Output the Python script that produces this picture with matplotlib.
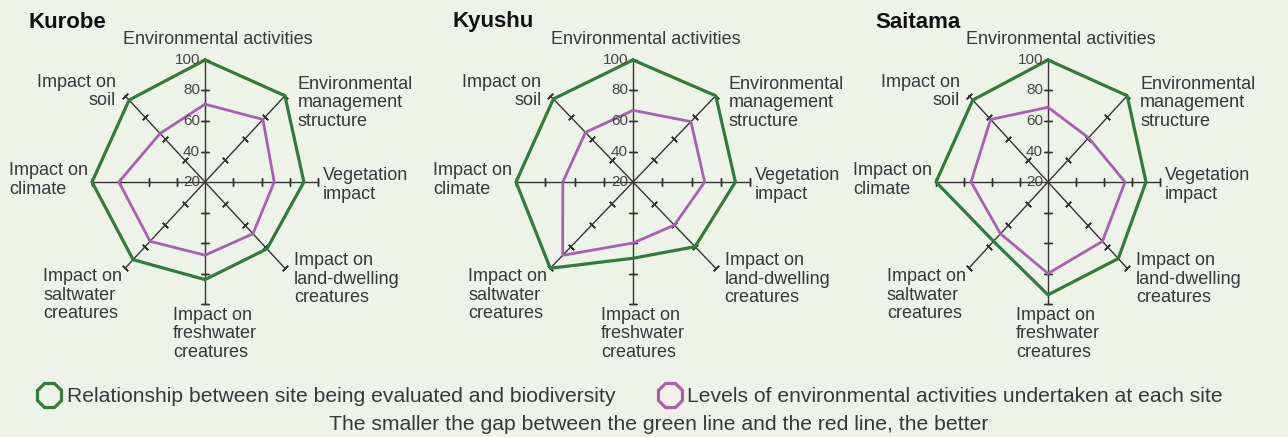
import numpy as np
import matplotlib
matplotlib.use("Agg")
import matplotlib.pyplot as plt
from matplotlib.lines import Line2D

plt.rcParams['font.family'] = ['Liberation Sans', 'DejaVu Sans']

sites = ["Kurobe", "Kyushu", "Saitama"]
categories = ["Environmental activities",
              "Environmental\nmanagement\nstructure",
              "Vegetation\nimpact",
              "Impact on\nland-dwelling\ncreatures",
              "Impact on\nfreshwater\ncreatures",
              "Impact on\nsaltwater\ncreatures",
              "Impact on\nclimate",
              "Impact on\nsoil"]
r_ticks = [20, 40, 60, 80, 100]

# biodiversity relationship (green)
green_kurobe = [100, 100, 90, 82, 84, 92, 100, 96]
green_kyushu = [100, 100, 90, 80, 70, 100, 100, 97]
green_saitama = [100, 100, 90, 91, 94, 75, 100, 96]
# environmental activity levels (purple)
purple_kurobe = [71, 78, 69, 68, 68, 75, 81, 65]
purple_kyushu = [67, 76, 69, 60, 60, 88, 68, 66]
purple_saitama = [69, 61, 75, 75, 80, 68, 75, 78]

greens = [green_kurobe, green_kyushu, green_saitama]
purples = [purple_kurobe, purple_kyushu, purple_saitama]

BG = '#eef3e8'
GREEN = '#2e7d3a'
PURPLE = '#ad5cb8'
AX = '#333333'
TXT = '#383838'

W, H = 1288, 437
fig = plt.figure(figsize=(W / 100, H / 100), dpi=100, facecolor=BG)

# centre x, half width (px); all share centre y and half height
centres = [(205, 113), (633, 117), (1048, 112)]
cy, hh = 182, 122
title_x = [28, 452, 875]

# label offsets in pixels from each spoke end: dx, dy, ha, multialignment
lab = [(13, 20, 'center', 'center'),
       (13, -7, 'left', 'left'),
       (5, -3, 'left', 'left'),
       (9, -11, 'left', 'left'),
       (-32, -30, 'left', 'left'),
       (-3, -27, 'right', 'left'),
       (-4, 2, 'right', 'left'),
       (-9, 4, 'right', 'right')]

n = len(categories)
theta = np.arange(n) * 2 * np.pi / n

for i, site in enumerate(sites):
    cx, hw = centres[i]
    ax = fig.add_axes([(cx - hw) / W, (H - cy - hh) / H, 2 * hw / W, 2 * hh / H],
                      projection='polar')
    ax.set_aspect('auto')
    ax.set_theta_zero_location('N')
    ax.set_theta_direction(-1)
    ax.set_ylim(20, 100)
    ax.axis('off')

    # spokes with cross ticks
    for k, t in enumerate(theta):
        ax.plot([t, t], [20, 100], color=AX, lw=1, clip_on=False, zorder=2)
        ang = 90 - np.degrees(t)
        ax.plot([t] * 4, r_ticks[1:], ls='none', marker=(2, 2, ang), ms=5.5,
                mew=1, color=AX, clip_on=False, zorder=2)

    tt = np.append(theta, theta[0])
    g = greens[i] + greens[i][:1]
    p = purples[i] + purples[i][:1]
    ax.plot(tt, g, color=GREEN, lw=2.3, clip_on=False, zorder=3)
    ax.plot(tt, p, color=PURPLE, lw=2.0, clip_on=False, zorder=3)

    for r in r_ticks:
        ax.annotate(str(r), xy=(0, r), xytext=(-5, 0), textcoords='offset pixels',
                    ha='right', va='center', fontsize=11, color='#444444',
                    annotation_clip=False, zorder=4)

    for k, t in enumerate(theta):
        dx, dy, ha, ma = lab[k]
        ax.annotate(categories[k], xy=(t, 100), xytext=(dx, dy),
                    textcoords='offset pixels', ha=ha, va='center',
                    multialignment=ma, fontsize=13, color=TXT,
                    linespacing=1.1, annotation_clip=False)

    fig.text(title_x[i] / W, 1 - 22 / H, site, fontsize=16, fontweight='bold',
             color='#111111', ha='left', va='center')

# legend
fig.add_artist(Line2D([49 / W], [1 - 395 / H], transform=fig.transFigure,
                      marker='8', ms=19, mfc='none', mec=GREEN, mew=2.3))
fig.text(67 / W, 1 - 396 / H,
         "Relationship between site being evaluated and biodiversity",
         fontsize=15.2, color=TXT, ha='left', va='center')
fig.add_artist(Line2D([670 / W], [1 - 395 / H], transform=fig.transFigure,
                      marker='8', ms=19, mfc='none', mec=PURPLE, mew=2.3))
fig.text(687 / W, 1 - 396 / H,
         "Levels of environmental activities undertaken at each site",
         fontsize=15.2, color=TXT, ha='left', va='center')
fig.text(659 / W, 1 - 425 / H,
         "The smaller the gap between the green line and the red line, the better",
         fontsize=15.2, color=TXT, ha='center', va='center')

fig.savefig("out.png", dpi=100, facecolor=BG)
